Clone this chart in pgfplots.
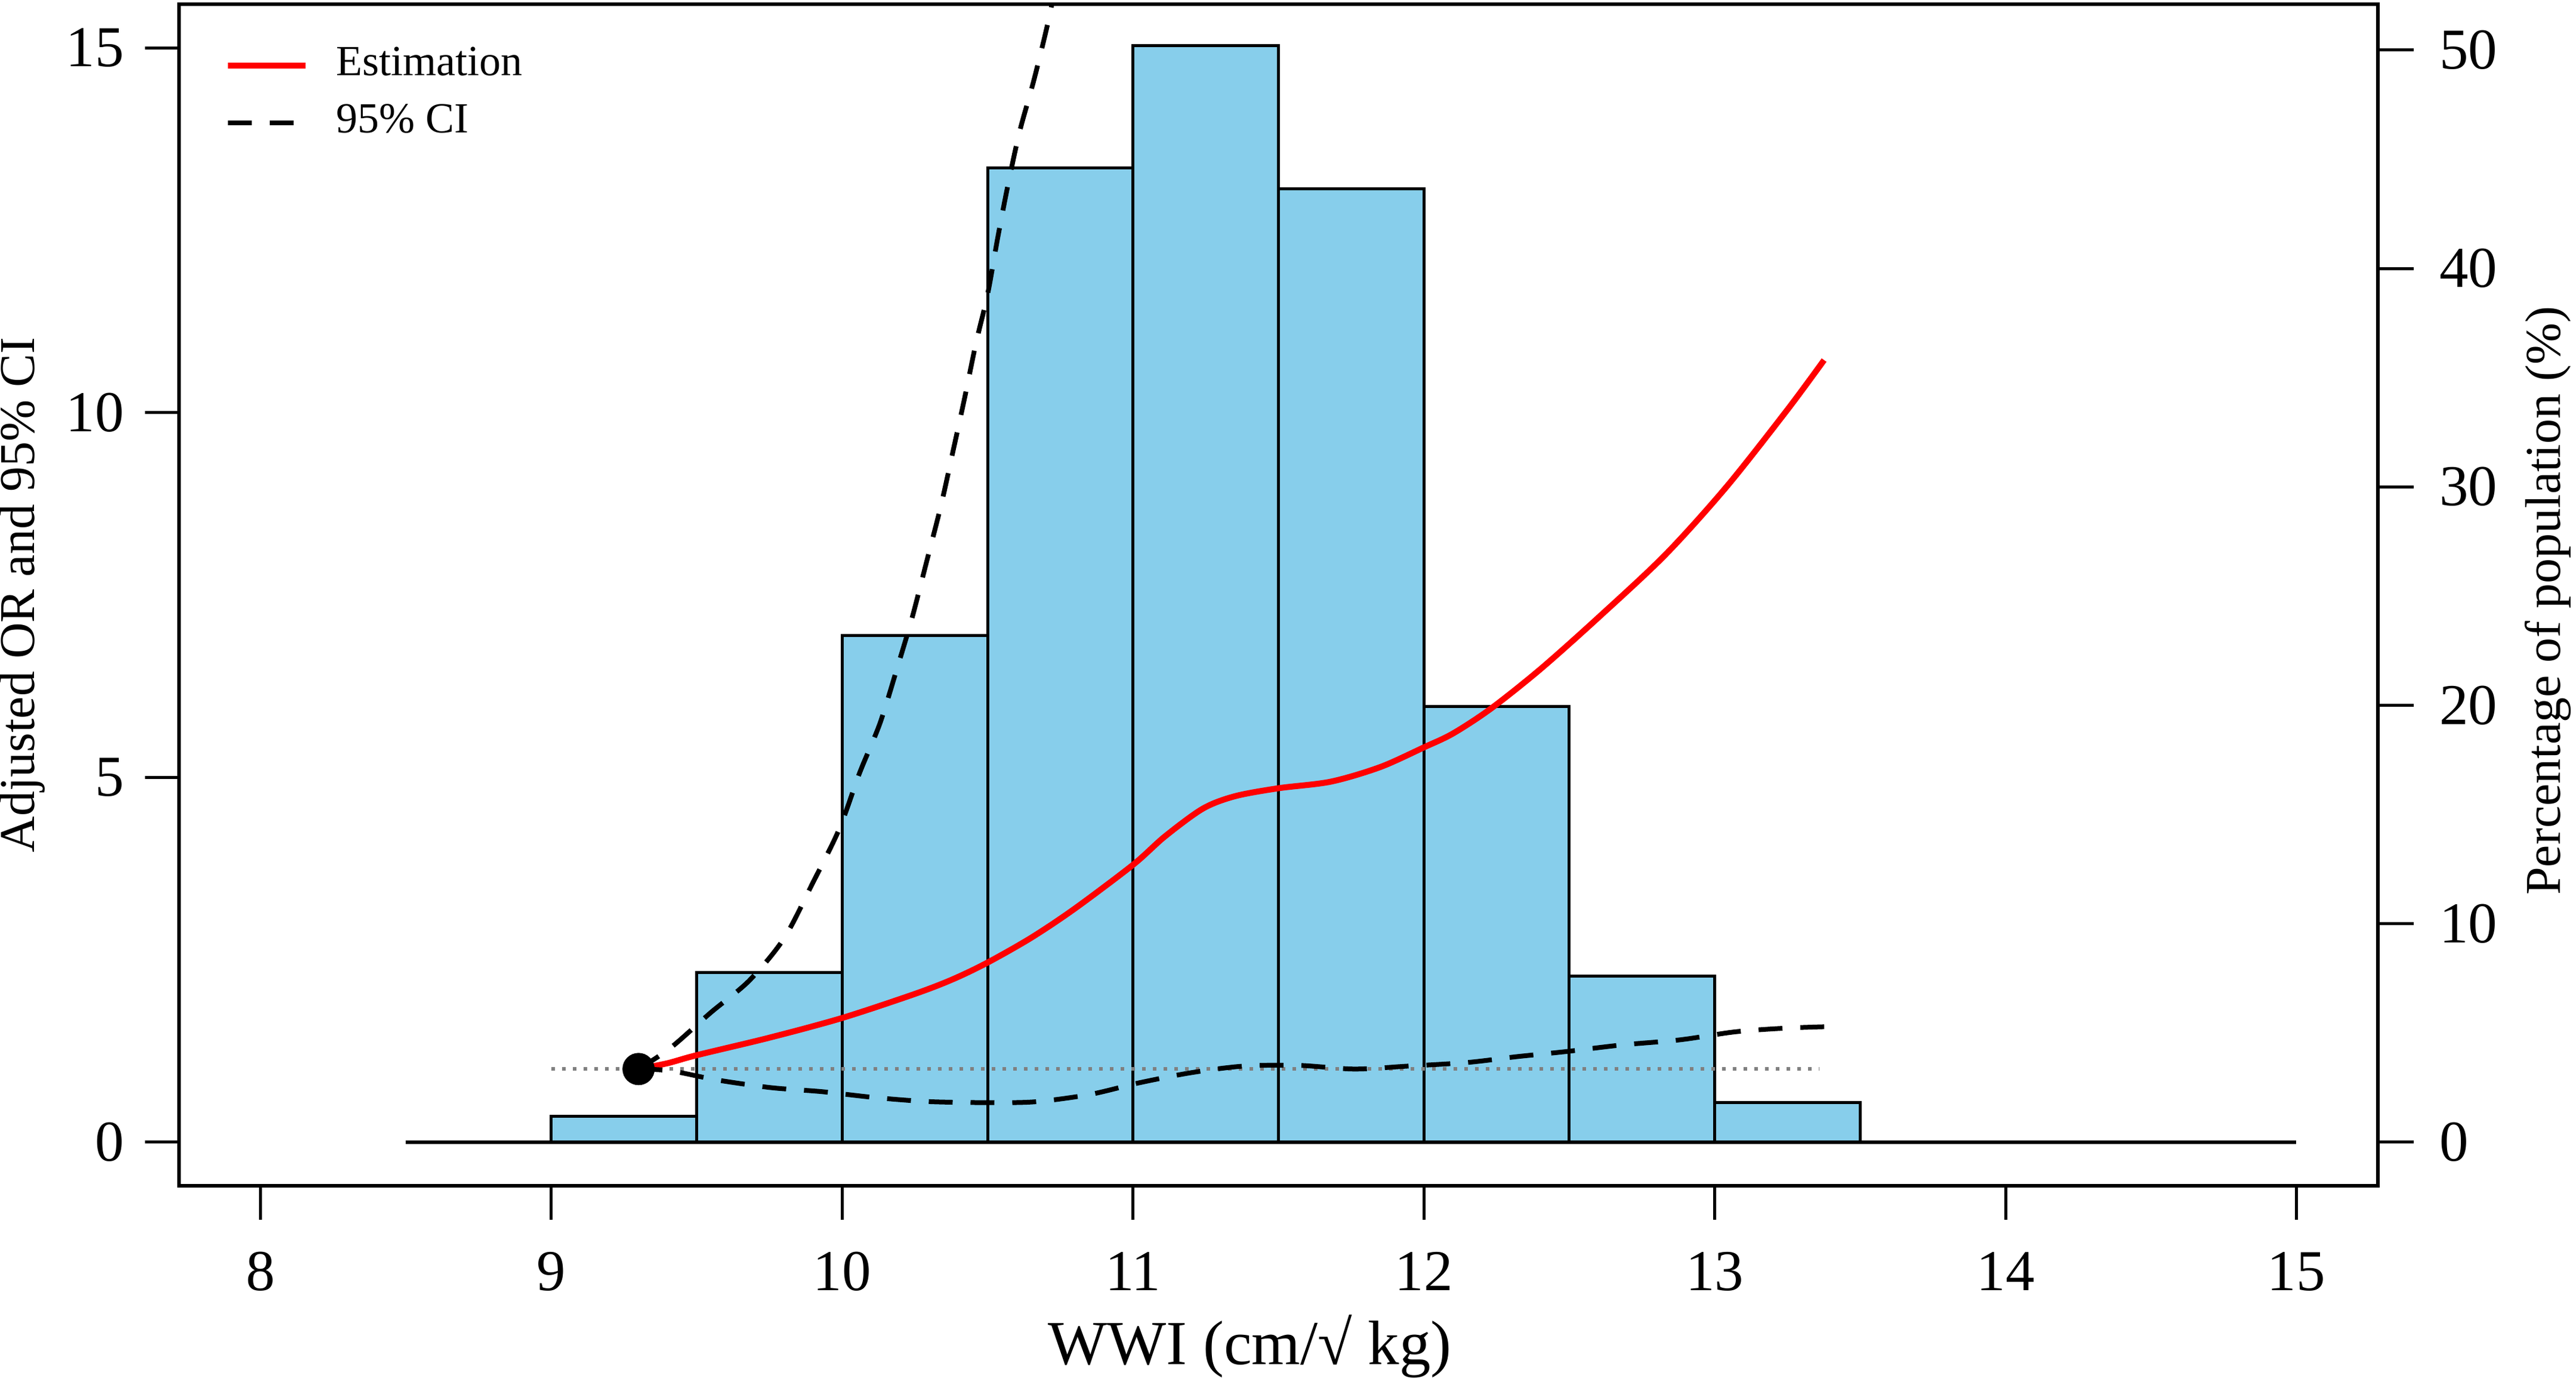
\documentclass[border=0pt]{standalone}
\usepackage{fontspec}
\setmainfont{Liberation Serif}
\usepackage{pgfplots}
\pgfplotsset{compat=1.18}
\definecolor{barblue}{RGB}{135,206,235}

\begin{document}
\begin{tikzpicture}
\path[use as bounding box] (-30pt,-32.9pt) rectangle (401.7pt,198.8pt);

% ---------- histogram (right axis, % of population) ----------
\begin{axis}[
  at={(0pt,0pt)}, anchor=south west,
  scale only axis, width=368.5pt, height=198.1pt,
  xmin=7.72, xmax=15.28, ymin=-2.0, ymax=52.1,
  hide x axis,
  axis y line*=right,
  axis line style={line width=0.6pt},
  ytick={0,10,20,30,40,50},
  tick align=outside,
  major tick length=6pt,
  tick style={black, line width=0.5pt},
  /pgf/number format/assume math mode=true,
  ticklabel style={font=\fontsize{9.7}{11}\selectfont},
  yticklabel style={xshift=0.8pt},
  ylabel={Percentage of population (\%)},
  every axis y label/.style={at={(axis description cs:1.0773,0.495)}, rotate=90, anchor=center, font=\fontsize{8.4}{10}\selectfont},
]
\addplot[ybar, bar width=0.5, bar shift=0pt, fill=barblue, draw=black, line width=0.5pt]
  coordinates {(9.25,1.17) (9.75,7.76) (10.25,23.2) (10.75,44.6) (11.25,50.2)
               (11.75,43.65) (12.25,19.95) (12.75,7.59) (13.25,1.81)};
\end{axis}

% ---------- OR curves (left axis) ----------
\begin{axis}[
  at={(0pt,0pt)}, anchor=south west,
  scale only axis, width=368.5pt, height=198.1pt,
  xmin=7.72, xmax=15.28, ymin=-0.6, ymax=15.6,
  axis line style={line width=0.6pt},
  xtick={8,9,10,11,12,13,14,15}, ytick={0,5,10,15},
  xtick pos=bottom, ytick pos=left,
  tick align=outside,
  major tick length=5.7pt,
  tick style={black, line width=0.5pt},
  /pgf/number format/assume math mode=true,
  ticklabel style={font=\fontsize{9.7}{11}\selectfont},
  xticklabel style={yshift=-1.9pt},
  xlabel={WWI (cm/√ kg)},
  ylabel={Adjusted OR and 95\% CI},
  every axis x label/.style={at={(axis description cs:0.487,-0.151)}, anchor=base, font=\fontsize{10.5}{12}\selectfont},
  every axis y label/.style={at={(axis description cs:-0.0714,0.5)}, rotate=90, anchor=center, font=\fontsize{8.4}{10}\selectfont},
  legend style={draw=none, fill=none, at={(axis description cs:0.0204,0.975)}, anchor=north west,
                font=\fontsize{7.2}{8.5}\selectfont, inner sep=0pt, row sep=-0.7pt, column sep=2.6pt},
  legend cell align=left,
  legend image code/.code={\draw[#1] (0pt,0pt) -- (13pt,0pt);},
]
% baseline of histogram
\addplot[black, line width=0.6pt, forget plot] coordinates {(8.5,0) (15,0)};
% reference line OR = 1
\addplot[gray, line width=0.6pt, dash pattern=on 0.6pt off 1.2pt, forget plot] coordinates {(9.0,1) (13.36,1)};

% estimation
\addplot[red, line width=1pt, smooth] coordinates {
 (9.30,1.00) (9.40,1.08) (9.50,1.19) (9.75,1.43) (10.00,1.70) (10.25,2.03)
 (10.38,2.23) (10.50,2.46) (10.65,2.80) (10.80,3.20) (11.00,3.80) (11.11,4.19)
 (11.24,4.57) (11.35,4.74) (11.50,4.85) (11.68,4.94) (11.85,5.14) (12.00,5.41)
 (12.10,5.60) (12.23,5.94) (12.40,6.48) (12.60,7.19) (12.83,8.05) (13.04,8.98)
 (13.25,10.04) (13.376,10.72)};
\addlegendentry{Estimation}

% upper 95% CI
\addplot[black, line width=0.8pt, dash pattern=on 4pt off 3pt, smooth] coordinates {
 (9.30,1.00) (9.41,1.29) (9.55,1.78) (9.68,2.21) (9.80,2.79) (9.90,3.56)
 (9.99,4.29) (10.06,5.06) (10.13,5.74) (10.19,6.51) (10.24,7.18) (10.29,7.95)
 (10.34,8.73) (10.38,9.45) (10.42,10.18) (10.46,10.95) (10.50,11.62) (10.535,12.40)
 (10.57,13.12) (10.61,13.85) (10.66,14.57) (10.71,15.39) (10.75,16.2)};
\addlegendentry{95\% CI}

% lower 95% CI
\addplot[black, line width=0.8pt, dash pattern=on 4pt off 3pt, smooth, forget plot] coordinates {
 (9.30,1.00) (9.41,0.976) (9.57,0.85) (9.755,0.745) (9.93,0.69) (10.11,0.61)
 (10.29,0.555) (10.475,0.54) (10.66,0.55) (10.85,0.65) (11.02,0.81) (11.20,0.95)
 (11.38,1.04) (11.57,1.05) (11.76,1.00) (11.945,1.04) (12.15,1.09) (12.32,1.17)
 (12.49,1.24) (12.68,1.33) (12.88,1.40) (13.07,1.51) (13.24,1.56) (13.38,1.58)};

% reference point
\addplot[only marks, mark=*, mark size=2.5pt, black, forget plot] coordinates {(9.3,1)};
\end{axis}
\end{tikzpicture}
\end{document}
